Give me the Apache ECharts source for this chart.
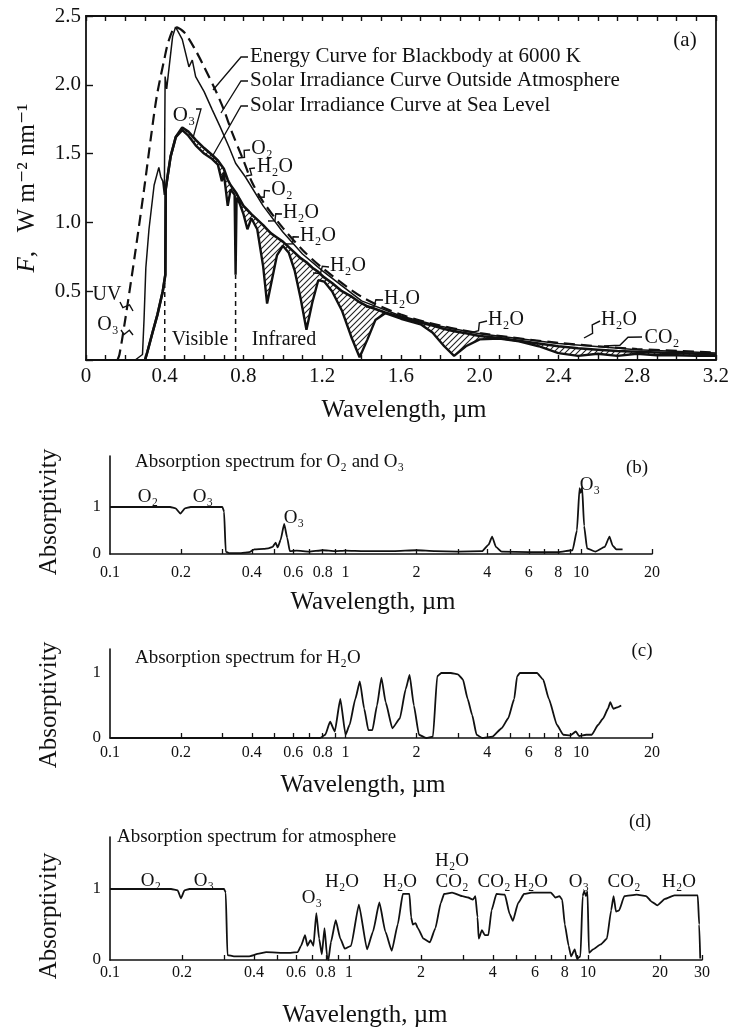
<!DOCTYPE html>
<html><head><meta charset="utf-8">
<script src="https://cdn.jsdelivr.net/npm/echarts@6/dist/echarts.min.js"></script>
<style>html,body{margin:0;padding:0;background:#fff}#c{width:732px;height:1028px}</style>
</head><body><div id="c"></div>
<script>
// ---------- Panel (a): irradiance (W m^-2 nm^-1) vs wavelength (µm) ----------
const bbLambda = [0.16,0.17,0.2,0.25,0.295,0.33,0.36,0.397,0.42,0.456,0.5,0.557,0.6,0.658,0.7,0.743,0.8,0.844,0.9,1.0,1.1,1.2,1.4,1.6,1.8,2.0,2.4,2.8,3.2];
const bbF      = [0,0.04,0.3,0.78,1.24,1.62,1.92,2.18,2.32,2.42,2.38,2.25,2.13,1.96,1.82,1.65,1.45,1.29,1.15,0.96,0.8,0.67,0.46,0.33,0.25,0.195,0.125,0.08,0.055];

const outLambda = [0.25,0.287,0.295,0.304,0.32,0.346,0.37,0.38,0.39,0.398,0.402,0.41,0.42,0.44,0.455,0.489,0.523,0.54,0.557,0.6,0.641,0.68,0.726,0.76,0.81,0.9,1.0,1.1,1.2,1.4,1.6,1.8,2.0,2.4,2.8,3.2];
const outF      = [0,0.04,0.3,0.67,0.95,1.27,1.4,1.33,1.3,1.2,2.06,1.97,2.1,2.35,2.42,2.33,2.13,2.18,2.06,1.95,1.82,1.7,1.55,1.43,1.33,1.12,0.93,0.77,0.65,0.43,0.32,0.245,0.19,0.12,0.075,0.05];

const seaLambda = [0.30,0.312,0.338,0.363,0.39,0.403,0.405,0.414,0.43,0.456,0.489,0.52,0.557,0.6,0.641,0.67,0.69,0.70,0.72,0.735,0.755,0.76,0.765,0.78,0.80,0.82,0.84,0.87,0.90,0.92,0.94,0.97,1.0,1.03,1.06,1.09,1.12,1.15,1.18,1.21,1.25,1.3,1.35,1.39,1.43,1.47,1.52,1.6,1.7,1.76,1.82,1.87,1.93,2.0,2.1,2.2,2.3,2.4,2.5,2.6,2.7,2.8,2.9,3.0,3.1,3.2];
const seaF      = [0,0.06,0.2,0.33,0.5,0.62,1.24,1.33,1.48,1.62,1.67,1.63,1.56,1.5,1.46,1.42,1.3,1.36,1.12,1.24,1.2,0.62,1.18,1.14,1.06,0.95,1.03,0.95,0.68,0.41,0.55,0.76,0.83,0.78,0.65,0.45,0.22,0.42,0.58,0.57,0.5,0.36,0.16,0.02,0.15,0.29,0.34,0.3,0.26,0.2,0.1,0.03,0.1,0.15,0.155,0.135,0.1,0.05,0.03,0.045,0.03,0.045,0.035,0.035,0.03,0.03];
const seaEnvF   = [0,0.06,0.2,0.33,0.5,0.62,1.24,1.33,1.48,1.62,1.69,1.66,1.6,1.54,1.49,1.45,1.41,1.39,1.31,1.27,1.23,1.22,1.21,1.17,1.12,1.09,1.06,1.02,0.98,0.95,0.92,0.89,0.86,0.82,0.78,0.74,0.71,0.67,0.64,0.6,0.56,0.5,0.46,0.42,0.39,0.37,0.345,0.31,0.27,0.25,0.225,0.21,0.195,0.175,0.16,0.14,0.12,0.1,0.085,0.075,0.065,0.06,0.055,0.05,0.045,0.04];

const boundLambda = [0.4, 0.76];   // UV/Visible and Visible/Infrared limits
const boundTop    = [0.62, 0.62];

const aXTickLabels = [0,0.4,0.8,1.2,1.6,2.0,2.4,2.8,3.2];
const aYTickLabels = [0.5,1.0,1.5,2.0,2.5];

// ---------- Panel (b): O2 and O3 absorption ----------
const bLambda = [0.1,0.18,0.19,0.199,0.208,0.22,0.3,0.305,0.31,0.32,0.36,0.39,0.41,0.45,0.47,0.49,0.505,0.515,0.53,0.549,0.565,0.58,0.62,0.7,0.8,0.9,1.0,1.2,1.6,2.0,2.4,3.0,3.8,4.05,4.19,4.35,4.6,6,8,9.2,9.6,9.85,9.95,10.1,10.3,10.6,11.5,12.6,13.2,13.6,14.1,15];
const bA      = [1,1,0.97,0.86,0.97,1,1,0.9,0.05,0.02,0.02,0.04,0.1,0.11,0.12,0.15,0.24,0.14,0.3,0.64,0.35,0.06,0.07,0.05,0.08,0.06,0.07,0.06,0.06,0.08,0.06,0.05,0.06,0.2,0.37,0.15,0.05,0.04,0.04,0.08,0.5,1.4,1.3,1.42,0.6,0.12,0.05,0.15,0.37,0.18,0.1,0.1];

// ---------- Panel (c): H2O absorption ----------
const cLambda = [0.1,0.78,0.82,0.86,0.9,0.95,1.0,1.04,1.1,1.15,1.2,1.25,1.3,1.36,1.42,1.48,1.58,1.7,1.8,1.87,1.95,2.05,2.2,2.35,2.45,2.55,2.8,3.0,3.15,3.3,3.45,3.6,3.8,4.2,4.6,4.9,5.2,5.35,5.5,6.0,6.5,6.9,7.3,7.9,8.4,9.0,9.5,9.8,10.5,11.1,11.8,12.4,13.0,13.3,13.7,14.2,14.8];
const cA      = [0,0,0.05,0.25,0.1,0.6,0.05,0.2,0.6,0.87,0.45,0.12,0.12,0.5,0.93,0.55,0.15,0.3,0.75,0.97,0.5,0.05,0,0.02,0.95,1.0,1.0,0.98,0.9,0.6,0.35,0.05,0,0.02,0.15,0.3,0.6,0.95,1.0,1.0,1.0,0.9,0.6,0.2,0.05,0.04,0.1,0.03,0.05,0.05,0.2,0.3,0.45,0.55,0.45,0.47,0.5];

// ---------- Panel (d): whole atmosphere absorption ----------
const dLambda = [0.1,0.18,0.192,0.198,0.205,0.215,0.3,0.305,0.31,0.33,0.38,0.42,0.45,0.55,0.61,0.63,0.655,0.67,0.69,0.71,0.73,0.75,0.77,0.79,0.81,0.82,0.84,0.88,0.92,0.96,1.02,1.1,1.19,1.26,1.34,1.42,1.51,1.6,1.68,1.79,1.82,1.85,1.9,1.94,2.05,2.18,2.3,2.42,2.5,2.7,2.98,3.15,3.3,3.38,3.45,3.49,3.6,3.7,3.83,3.95,4.14,4.49,4.7,4.85,5.1,5.4,5.8,7.0,7.3,7.6,7.8,8.0,8.3,8.5,8.8,9.0,9.3,9.5,9.65,9.8,9.95,10.1,10.5,11.3,12.0,12.5,12.8,13.1,13.5,14.2,16,17.5,18.5,19.5,21,23,28.8,29.2,29.5];
const dA      = [1,1,0.98,0.87,0.98,1,1,0.95,0.07,0.05,0.05,0.09,0.11,0.1,0.11,0.2,0.35,0.2,0.28,0.2,0.66,0.3,0.08,0.45,0.05,0.0,0.25,0.56,0.3,0.16,0.2,0.78,0.15,0.4,0.81,0.4,0.13,0.5,0.93,0.93,0.6,0.5,0.52,0.45,0.3,0.25,0.45,0.8,0.93,0.95,0.9,0.88,0.85,0.9,0.6,0.3,0.42,0.35,0.35,0.7,0.93,0.92,0.65,0.55,0.8,0.93,0.95,0.95,0.88,0.9,0.85,0.5,0.2,0.05,0.15,0.02,0.05,0.9,0.97,0.9,0.97,0.1,0.15,0.22,0.3,0.7,0.9,0.68,0.7,0.9,0.92,0.9,0.82,0.77,0.86,0.91,0.91,0.5,0.02];

const logTickLabels  = [0.1,0.2,0.4,0.6,0.8,1,2,4,6,8,10,20];
const logTickLabelsD = [0.1,0.2,0.4,0.6,0.8,1,2,4,6,8,10,20,30];
const logTicks = [0.2,0.3,0.4,0.5,0.6,0.7,0.8,0.9,1,2,3,4,5,6,7,8,9,10,20];
const logTicksD = [0.2,0.3,0.4,0.5,0.6,0.7,0.8,0.9,1,2,3,4,5,6,7,8,9,10,20,30];

// ---------- helpers ----------
const SERIF = "'Liberation Serif','DejaVu Serif',serif";
const INK = '#111';
const L = Math.log10;
const pairs = (xs, ys) => xs.map((x, i) => [x, ys[i]]);
const logPairs = (xs, ys) => xs.map((x, i) => [L(x), ys[i]]);
const logFmt = v => String(parseFloat(Math.pow(10, v).toPrecision(2)));

function hatchCanvas() {
  const c = document.createElement('canvas'); c.width = 6; c.height = 6;
  const g = c.getContext('2d');
  g.strokeStyle = '#222'; g.lineWidth = 1.1;
  g.beginPath();
  g.moveTo(0, 6); g.lineTo(6, 0);
  g.moveTo(-2, 2); g.lineTo(2, -2);
  g.moveTo(4, 8); g.lineTo(8, 4);
  g.stroke();
  return c;
}
const hatch = { image: hatchCanvas(), repeat: 'repeat' };

function logX(grid, maxL, labels, ticks, margin) {
  return {
    type: 'value', gridIndex: grid, min: L(0.1), max: L(maxL),
    axisLine: { show: true, onZero: false, lineStyle: { color: INK, width: 1.6 } },
    axisTick: { show: true, inside: true, length: 5, customValues: ticks.map(L), lineStyle: { color: INK, width: 1.3 } },
    axisLabel: { customValues: labels.map(L), formatter: logFmt, fontFamily: SERIF, fontSize: 16, color: INK, margin: margin },
    splitLine: { show: false }
  };
}
function absY(grid, maxV) {
  return {
    type: 'value', gridIndex: grid, min: 0, max: maxV,
    axisLine: { show: true, onZero: false, lineStyle: { color: INK, width: 1.6 } },
    axisTick: { show: false },
    axisLabel: { customValues: [0, 1], formatter: v => String(v), fontFamily: SERIF, fontSize: 17, color: INK, margin: 9 },
    splitLine: { show: false }
  };
}
function absLine(xi, data) {
  return { type: 'line', xAxisIndex: xi, yAxisIndex: xi, data: data, showSymbol: false, symbol: 'none',
    lineStyle: { color: INK, width: 1.8 }, smooth: 0.15, smoothMonotone: 'x', silent: true };
}

// ---------- text graphics ----------
const G = [];
function txt(t, x, y, size, align, extra) {
  G.push(Object.assign({ type: 'text', x: x, y: y, silent: true,
    style: { text: t, font: size + 'px ' + SERIF, fill: INK, align: align || 'center', verticalAlign: 'middle',
             textAlign: align || 'center', textVerticalAlign: 'middle' } }, extra || {}));
}
function rtxt(t, x, y, size) { txt(t, x, y, size, 'center', { rotation: Math.PI / 2 }); }
function poly(pts, w) {
  G.push({ type: 'polyline', silent: true, shape: { points: pts }, style: { stroke: INK, lineWidth: w || 1.3, fill: null } });
}
function squiggle(x0, y0, x1, y1) {
  const dx = x1 - x0, dy = y1 - y0, len = Math.hypot(dx, dy), px = -dy / len * 3, py = dx / len * 3;
  poly([[x0, y0], [x0 + dx * 0.35 + px, y0 + dy * 0.35 + py], [x0 + dx * 0.6 - px, y0 + dy * 0.6 - py], [x1, y1]], 1.4);
}

// panel (a) texts
txt('Energy Curve for Blackbody at 6000 K', 250, 56, 21, 'left');
txt('Solar Irradiance Curve Outside Atmosphere', 250, 80, 21, 'left');
txt('Solar Irradiance Curve at Sea Level', 250, 105, 21, 'left');
poly([[248, 57], [241, 57], [213, 90]]);
poly([[248, 81], [241, 81], [221, 113]]);
poly([[248, 106], [241, 106], [212, 157]]);
txt('(a)', 685, 40, 21);
txt('O₃', 184, 115, 21);
poly([[196, 109], [201, 109], [193, 138]]);
const aLabels = [
  ['O₂', 262, 149, 250, 150, 238, 158],
  ['H₂O', 275, 167, 255, 168, 246, 176],
  ['O₂', 282, 190, 270, 191, 258, 197],
  ['H₂O', 301, 213, 282, 214, 268, 221],
  ['H₂O', 318, 236, 299, 237, 286, 244],
  ['H₂O', 348, 266, 329, 267, 313, 273],
  ['H₂O', 402, 299, 383, 300, 366, 307],
  ['H₂O', 506, 320, 487, 321, 470, 333],
  ['H₂O', 619, 320, 600, 321, 584, 338],
  ['CO₂', 662, 338, 642, 337, 604, 346]
];
aLabels.forEach(a => { txt(a[0], a[1], a[2], 20); squiggle(a[3], a[4], a[5], a[6]); });
txt('UV', 107, 295, 20); squiggle(120, 302, 133, 311);
txt('O₃', 108, 325, 20); squiggle(121, 330, 133, 335);
txt('Visible', 200, 340, 20);
txt('Infrared', 284, 340, 20);
G.push({ type: 'text', x: 27, y: 188, rotation: Math.PI / 2, silent: true,
  style: { text: '{i|F}{n|,   W m⁻² nm⁻¹}', align: 'center', verticalAlign: 'middle', textAlign: 'center', textVerticalAlign: 'middle', fill: INK,
    font: '25px ' + SERIF,
    rich: { i: { fontFamily: SERIF, fontSize: 25, fontStyle: 'italic', fill: INK, color: INK },
            n: { fontFamily: SERIF, fontSize: 25, fill: INK, color: INK } } } });
txt('Wavelength, µm', 404, 410, 25);

// panel (b)
txt('Absorption spectrum for O₂ and O₃', 135, 462, 19, 'left');
txt('(b)', 637, 468, 19);
txt('O₂', 148, 497, 19); txt('O₃', 203, 497, 19); txt('O₃', 294, 518, 19); txt('O₃', 590, 485, 19);
rtxt('Absorptivity', 49, 512, 25);
txt('Wavelength, µm', 373, 602, 25);

// panel (c)
txt('Absorption spectrum for H₂O', 135, 658, 19, 'left');
txt('(c)', 642, 651, 19);
rtxt('Absorptivity', 49, 705, 25);
txt('Wavelength, µm', 363, 785, 25);

// panel (d)
txt('Absorption spectrum for atmosphere', 117, 837, 19, 'left');
txt('(d)', 640, 822, 19);
[['O₂',151,881],['O₃',204,881],['O₃',312,898],['H₂O',342,882],['H₂O',400,882],['H₂O',452,861],['CO₂',452,882],
 ['CO₂',494,882],['H₂O',531,882],['O₃',579,882],['CO₂',624,882],['H₂O',679,882]].forEach(a => txt(a[0], a[1], a[2], 19));
rtxt('Absorptivity', 49, 916, 25);
txt('Wavelength, µm', 365, 1015, 25);

// ---------- chart ----------
const chart = echarts.init(document.getElementById('c'), null, { renderer: 'canvas' });

const option = {
  animation: false,
  backgroundColor: '#fff',
  grid: [
    { left: 86, top: 16, width: 632, height: 344 },
    { left: 110, top: 456, width: 542, height: 98 },
    { left: 110, top: 649, width: 542, height: 89 },
    { left: 110, top: 837, width: 592, height: 123 }
  ],
  xAxis: [
    { type: 'value', gridIndex: 0, min: 0, max: 3.2, interval: 0.4,
      axisLine: { show: true, onZero: false, lineStyle: { color: INK, width: 1.8 } },
      axisTick: { show: true, inside: true, length: 5, lineStyle: { color: INK, width: 1.4 } },
      minorTick: { show: true, splitNumber: 4, length: 5, lineStyle: { color: INK, width: 1.4 } },
      axisLabel: { fontFamily: SERIF, fontSize: 21, color: INK, margin: 6,
        formatter: v => { const m = aXTickLabels.find(t => Math.abs(t - v) < 1e-6); return m === undefined ? '' : (m === 0 ? '0' : m.toFixed(1)); } },
      splitLine: { show: false } },
    { type: 'value', gridIndex: 0, position: 'top', min: 0, max: 3.2, interval: 0.1,
      axisLine: { show: true, onZero: false, lineStyle: { color: INK, width: 1.8 } },
      axisTick: { show: true, inside: true, length: 5, lineStyle: { color: INK, width: 1.4 } },
      axisLabel: { show: false }, splitLine: { show: false } },
    logX(1, 20, logTickLabels, logTicks, 11),
    logX(2, 20, logTickLabels, logTicks, 7),
    logX(3, 30, logTickLabelsD, logTicksD, 5)
  ],
  yAxis: [
    { type: 'value', gridIndex: 0, min: 0, max: 2.5, interval: 0.5,
      axisLine: { show: true, onZero: false, lineStyle: { color: INK, width: 1.8 } },
      axisTick: { show: true, inside: true, length: 7, lineStyle: { color: INK, width: 1.4 } },
      axisLabel: { fontFamily: SERIF, fontSize: 21, color: INK, margin: 5,
        formatter: v => { const m = aYTickLabels.find(t => Math.abs(t - v) < 1e-6); return m === undefined ? '' : m.toFixed(1); } },
      splitLine: { show: false } },
    { type: 'value', gridIndex: 0, position: 'right', min: 0, max: 2.5,
      axisLine: { show: true, onZero: false, lineStyle: { color: INK, width: 1.8 } },
      axisTick: { show: false }, axisLabel: { show: false }, splitLine: { show: false } },
    absY(1, 98 / 47),
    absY(2, 89 / 65),
    absY(3, 123 / 71)
  ],
  series: [
    { name: 'absorbed band', type: 'custom', xAxisIndex: 0, yAxisIndex: 0, data: [0], silent: true, clip: true,
      renderItem: (params, api) => {
        const top = seaLambda.map((x, i) => api.coord([x, seaEnvF[i]]));
        const bot = seaLambda.map((x, i) => api.coord([x, seaF[i]])).reverse();
        return { type: 'polygon', shape: { points: top.concat(bot) }, style: { fill: hatch, stroke: null } };
      } },
    { name: 'sea', type: 'line', xAxisIndex: 0, yAxisIndex: 0, data: pairs(seaLambda, seaF),
      showSymbol: false, symbol: 'none', lineStyle: { color: INK, width: 2.4 }, silent: true },
    { name: 'seaEnvelope', type: 'line', xAxisIndex: 0, yAxisIndex: 0, data: pairs(seaLambda, seaEnvF),
      showSymbol: false, symbol: 'none', lineStyle: { color: INK, width: 2.6 }, silent: true },
    { name: 'outside', type: 'line', xAxisIndex: 0, yAxisIndex: 0, data: pairs(outLambda, outF),
      showSymbol: false, symbol: 'none', lineStyle: { color: INK, width: 1.5 }, silent: true },
    { name: 'blackbody', type: 'line', xAxisIndex: 0, yAxisIndex: 0, data: pairs(bbLambda, bbF),
      showSymbol: false, symbol: 'none', smooth: 0.3, lineStyle: { color: INK, width: 2.2, type: [11, 6] }, silent: true },
    { name: 'uvvis', type: 'line', xAxisIndex: 0, yAxisIndex: 0, data: [[boundLambda[0], 0], [boundLambda[0], boundTop[0]]],
      showSymbol: false, symbol: 'none', lineStyle: { color: INK, width: 1.5, type: [5, 4] }, silent: true },
    { name: 'visir', type: 'line', xAxisIndex: 0, yAxisIndex: 0, data: [[boundLambda[1], 0], [boundLambda[1], boundTop[1]]],
      showSymbol: false, symbol: 'none', lineStyle: { color: INK, width: 1.5, type: [5, 4] }, silent: true },
    absLine(2, logPairs(bLambda, bA)),
    absLine(3, logPairs(cLambda, cA)),
    absLine(4, logPairs(dLambda, dA))
  ],
  graphic: { elements: G }
};
chart.setOption(option);
</script></body></html>
